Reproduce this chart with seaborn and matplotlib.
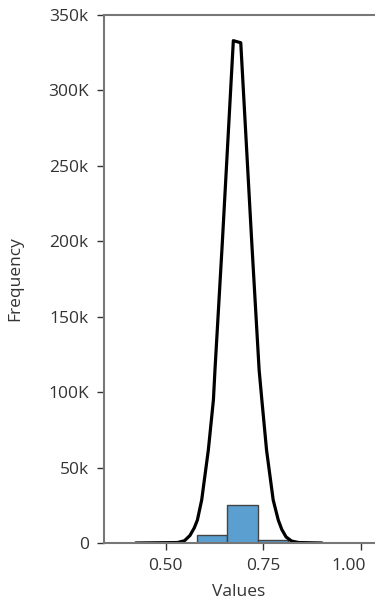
import matplotlib
matplotlib.use("Agg")
import matplotlib.pyplot as plt
import matplotlib.transforms as mtransforms
import seaborn as sns
import numpy as np
import pandas as pd

# Histogram bins (edges) and counts
bin_edges = [0.580, 0.658, 0.736, 0.814]
bin_counts = [5500, 25400, 1800]

# Smooth frequency curve (x, y)
curve_x = [0.423, 0.530, 0.548, 0.562, 0.573, 0.581, 0.592, 0.609, 0.622, 0.626, 0.645, 0.673,
           0.692, 0.720, 0.739, 0.746, 0.758, 0.775, 0.788, 0.797, 0.808, 0.822, 0.840, 0.900]
curve_y = [0, 300, 1500, 5000, 10000, 15200, 28500, 61600, 94800, 114700, 200000, 333000,
           331600, 200000, 114700, 94800, 61600, 28500, 15200, 9000, 4000, 1300, 300, 0]

y_ticks = [0, 50000, 100000, 150000, 200000, 250000, 300000, 350000]
y_tick_labels = ["0", "50k", "100K", "150k", "200k", "250k", "300K", "350k"]
x_ticks = [0.50, 0.75, 1.00]
x_tick_labels = ["0.50", "0.75", "1.00"]

sns.set_style("white")
plt.rcParams['font.family'] = ['Open Sans', 'DejaVu Sans']

fig = plt.figure(figsize=(3.75, 5.99), dpi=100)
ax = fig.add_axes([104/375, 1 - 543/599, (374 - 104)/375, (543 - 15)/599])

centers = [(bin_edges[i] + bin_edges[i + 1]) / 2 for i in range(len(bin_counts))]
hist_df = pd.DataFrame({"x": centers, "w": bin_counts})
sns.histplot(data=hist_df, x="x", weights="w", bins=bin_edges, ax=ax,
             color="#5b9fd0", alpha=1.0, edgecolor="#444444", linewidth=1.0)

curve_df = pd.DataFrame({"x": curve_x, "y": curve_y})
sns.lineplot(data=curve_df, x="x", y="y", ax=ax, color="black", linewidth=2.3, sort=False)

ax.set_xlim(0.342, 1.033)
ax.set_ylim(0, 350000)
ax.set_yticks(y_ticks)
ax.set_yticklabels(y_tick_labels)
ax.set_xticks(x_ticks)
ax.set_xticklabels(x_tick_labels)
ax.set_xlabel("Values", fontsize=12.5, color="#333333", labelpad=7)
ax.set_ylabel("Frequency", fontsize=12.5, color="#333333", labelpad=18)

ax.tick_params(axis="both", labelsize=12.5, colors="#333333", length=5, width=1,
               direction="out", left=True, bottom=True, pad=6)
for s in ["left", "bottom", "top"]:
    ax.spines[s].set_color("#777777")
    ax.spines[s].set_linewidth(1.5)
ax.spines["right"].set_visible(False)

# keep the last x tick label inside the figure (shifted left as in reference)
last = ax.get_xticklabels()[-1]
last.set_transform(last.get_transform() + mtransforms.ScaledTranslation(-12/100, 0, fig.dpi_scale_trans))

fig.savefig("out.png", dpi=100)
